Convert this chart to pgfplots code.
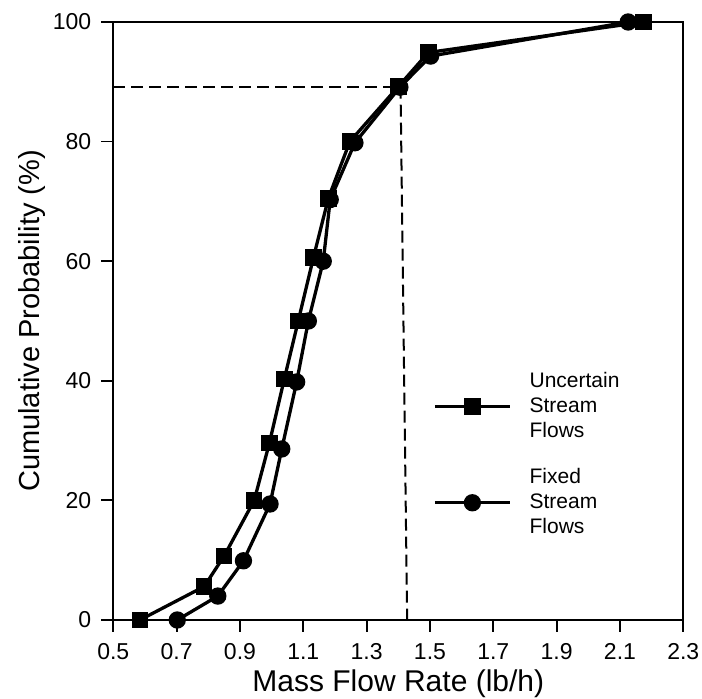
\documentclass[border=0pt]{standalone}
\usepackage{fontspec}
\setmainfont{Liberation Sans}
\usepackage{pgfplots}
\pgfplotsset{compat=1.18}

\begin{document}
\begin{tikzpicture}
\begin{axis}[
    scale only axis,
    width=285pt, height=299pt,
    xmin=0.5, xmax=2.3, ymin=0, ymax=100,
    xtick={0.5,0.7,...,2.3},
    ytick={0,20,...,100},
    xtick pos=bottom, ytick pos=left,
    tick align=outside,
    major tick length=6pt,
    axis line style={line width=1pt},
    every tick/.style={line width=0.9pt, black},
    /pgf/number format/assume math mode=true,
    /pgf/number format/fixed,
    /pgf/number format/fixed zerofill,
    xticklabel style={font=\fontsize{11.5}{13}\selectfont, /pgf/number format/precision=1, yshift=-2.3pt},
    yticklabel style={font=\fontsize{11.5}{13}\selectfont, /pgf/number format/precision=0, xshift=-1.5pt},
    xlabel={Mass Flow Rate (lb/h)},
    ylabel={Cumulative Probability (\%)},
    xlabel style={font=\fontsize{15}{17}\selectfont, at={(axis description cs:0.5,0)}, anchor=center, yshift=-32pt},
    ylabel style={font=\fontsize{14.5}{17}\selectfont, at={(axis description cs:0,0.5)}, anchor=center, yshift=40.5pt},
    legend style={at={(0.55,0.428)}, anchor=north west, draw=none, fill=none,
        font=\fontsize{10.5}{12.5}\selectfont,
        cells={align=left},
        /tikz/every odd column/.append style={column sep=7pt},
        row sep=10pt},
    legend cell align=left,
    legend image code/.code={
        \draw[mark repeat=2, mark phase=2] plot coordinates {(0cm,0cm) (0.66cm,0cm) (1.32cm,0cm)};},
]
% dashed guide lines at about 89 %
\addplot[black, line width=1pt, dash pattern=on 6pt off 3pt, forget plot]
    coordinates {(0.5,89.2) (1.400,89.2)};
\addplot[black, line width=1pt, dash pattern=on 6pt off 3pt, forget plot]
    coordinates {(1.407,89.2) (1.428,0)};

\addplot[black, line width=1.65pt, mark=square*, mark size=3.3pt,
    mark options={solid, fill=black}]
    coordinates {
    (0.584,0) (0.787,5.6) (0.850,10.7) (0.945,20) (0.993,29.6)
    (1.040,40.3) (1.084,50) (1.132,60.6) (1.179,70.5) (1.247,80)
    (1.400,89.2) (1.495,94.9) (2.174,100)};
\addlegendentry{Uncertain\\Stream\\Flows}

\addplot[black, line width=1.65pt, mark=*, mark size=3.5pt,
    mark options={solid, fill=black}]
    coordinates {
    (0.702,0) (0.830,4) (0.911,9.9) (0.995,19.4) (1.032,28.6)
    (1.079,39.8) (1.116,50) (1.163,60) (1.185,70.3) (1.263,79.8)
    (1.405,89.1) (1.502,94.3) (2.126,100)};
\addlegendentry{Fixed\\Stream\\Flows}
\end{axis}
\pgfresetboundingbox
\path[use as bounding box] ([shift={(-56.65pt,-39.5pt)}]current axis.south west)
    rectangle ([shift={(9.35pt,11pt)}]current axis.north east);
\end{tikzpicture}
\end{document}
